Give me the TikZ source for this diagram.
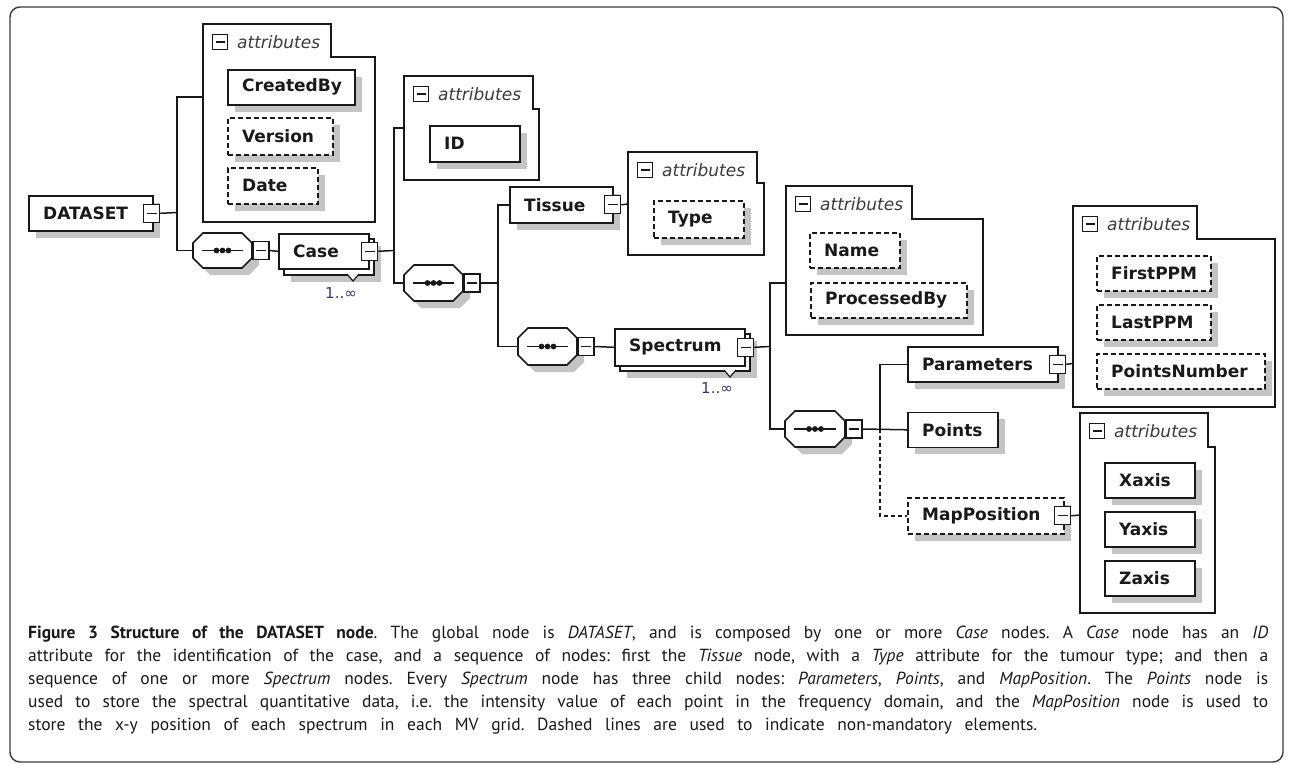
\documentclass[tikz,border=0pt]{standalone}
\usepackage{fontspec}
\newfontfamily\dvfont{DejaVu Sans}
\newfontfamily\capfont{PT Sans}
\usetikzlibrary{shadows,fit}
\definecolor{shadowgray}{RGB}{196,196,196}
\definecolor{ink}{RGB}{25,25,25}
\definecolor{framegray}{RGB}{60,60,60}
\definecolor{multcol}{RGB}{60,50,110}
\tikzset{
 conn/.style={draw=ink, line width=1.5pt},
 optconn/.style={conn, dash pattern=on 4pt off 3pt},
 elembox/.style={draw=ink, fill=white, line width=1.6pt, inner sep=0, anchor=north west},
 shad/.style={drop shadow={shadow xshift=7pt, shadow yshift=-7pt, fill=shadowgray, opacity=1}},
 optbox/.style={dash pattern=on 5pt off 3pt},
 eltext/.style={font=\dvfont\bfseries\fontsize{17}{20}\selectfont, text=ink, inner sep=0, anchor=west},
 attrtext/.style={font=\dvfont\itshape\fontsize{17}{20}\selectfont, text=ink!85, inner sep=0, anchor=west},
 minusicon/.style={draw=ink, fill=white, line width=1.3pt, inner sep=0, minimum width=16pt, minimum height=18pt,
   path picture={\draw[ink, line width=1.3pt] ([xshift=3pt]path picture bounding box.west) -- ([xshift=-3pt]path picture bounding box.east);}},
 attricon/.style={minusicon, minimum width=15pt, minimum height=15pt},
 container/.style={draw=ink, line width=1.6pt, fill=white},
 multtext/.style={font=\dvfont\fontsize{15}{18}\selectfont, text=multcol, inner sep=0},
 captext/.style={font=\capfont\fontsize{17.5}{22}\selectfont\frenchspacing, text=ink, inner sep=0, anchor=base west},
}
% element box: [style]{name}{x,y}{w}{h}{text}
\newcommand{\Elem}[6][]{%
  \node[elembox, shad, #1, minimum width=#4pt, minimum height=#5pt] (#2) at (#3) {};
  \node[eltext] (#2t) at ([xshift=15pt]#2.west) {#6};}
% front box of a repeated element (no shadow)
\newcommand{\FrontElem}[5]{%
  \node[elembox, minimum width=#3pt, minimum height=#4pt] (#1) at (#2) {};
  \node[eltext] (#1t) at ([xshift=15pt]#1.west) {#5};}
% sequence octagon: {name}{x1}{y1}{x2}{y2}
\newcommand{\Seq}[5]{%
  \path[fill=shadowgray, shift={(7,7)}] (#2+10,#3) -- (#4-10,#3) -- (#4,#3+10) -- (#4,#5-10) -- (#4-10,#5) -- (#2+10,#5) -- (#2,#5-10) -- (#2,#3+10) -- cycle;
  \draw[container] (#2+10,#3) -- (#4-10,#3) -- (#4,#3+10) -- (#4,#5-10) -- (#4-10,#5) -- (#2+10,#5) -- (#2,#5-10) -- (#2,#3+10) -- cycle;
  \coordinate (#1nw) at (#2,#3); \coordinate (#1se) at (#4,#5);
  \node[inner sep=0, fit=(#1nw)(#1se)] (#1) {};
  \draw[ink, line width=1.4pt] ([xshift=9pt]#1.west) -- ([xshift=-9pt]#1.east);
  \foreach \d in {-6,0,6} \fill[ink] ([xshift=\d pt]#1.center) circle (2.9pt);
  \node[minusicon, anchor=west] (#1m) at (#1.east) {};}
% attributes container: {name}{x1}{y1}{xt}{yt}{x2}{y2}
\newcommand{\Attrs}[7]{%
  \draw[container] (#2,#3) -- (#4,#3) -- (#4,#5) -- (#6,#5) -- (#6,#7) -- (#2,#7) -- cycle;
  \node[attricon] (#1i) at (#2+17,#3+18) {};
  \node[attrtext] (#1t) at (#2+34,#3+18) {attributes};}
\begin{document}
\begin{tikzpicture}[x=1pt,y=-1pt]
\useasboundingbox (0,0) rectangle (1290,765);
\fill[white] (0,0) rectangle (1290,765);
\draw[framegray, line width=1.4pt, rounded corners=10pt] (10,7) rectangle (1283,762);

% ---------- DATASET ----------
\Elem{dataset}{28,195}{124}{35}{DATASET}
\node[minusicon] (datasetm) at ([xshift=-2pt]dataset.east) {};
\Attrs{a1}{203}{24}{331}{57}{375}{222}
\Elem{createdby}{227,69}{127}{35}{CreatedBy}
\Elem[optbox]{version}{227,117}{105}{37}{Version}
\Elem[optbox]{date}{227,167}{90}{36}{Date}
\Seq{seq1}{193}{233}{252}{268}

% ---------- Case ----------
\node[elembox, shad, minimum width=90pt, minimum height=36pt] (caseb) at (283,238) {};
\FrontElem{case}{278,233}{90}{35}{Case}
\node[minusicon] (casem) at (case.east) {};
\draw[ink, line width=1.2pt, fill=white] (347,274) -- (353,281) -- (359,274);
\node[multtext] (casemult) at (341,293) {1..∞};
\Attrs{a2}{404}{76}{533}{109}{539}{180}
\Elem{id}{429,125}{90}{36}{ID}
\Seq{seq2}{404}{265}{463}{301}

% ---------- Tissue ----------
\Elem{tissue}{509,186}{103}{36}{Tissue}
\node[minusicon] (tissuem) at ([xshift=-1pt]tissue.east) {};
\Attrs{a3}{628}{152}{757}{183}{764}{255}
\Elem[optbox]{type}{653,200}{90}{37}{Type}
\Seq{seq3}{518}{328}{577}{365}

% ---------- Spectrum ----------
\node[elembox, shad, minimum width=130pt, minimum height=37pt] (spectrumb) at (619,333) {};
\FrontElem{spectrum}{614,328}{130}{37}{Spectrum}
\node[minusicon] (spectrumm) at (spectrum.east) {};
\draw[ink, line width=1.2pt, fill=white] (724,370) -- (730,377) -- (736,370);
\node[multtext] (specmult) at (717,388) {1..∞};
\Attrs{a4}{786}{186}{912}{219}{983}{335}
\Elem[optbox]{name}{809,232}{90}{35}{Name}
\Elem[optbox]{processedby}{810,282}{156}{35}{ProcessedBy}
\Seq{seq4}{785}{411}{845}{447}

% ---------- children of sequence 4 ----------
\Elem{parameters}{907,346}{150}{35}{Parameters}
\node[minusicon] (parametersm) at ([xshift=-1pt]parameters.east) {};
\Elem{points}{907,411.5}{90}{35}{Points}
\Elem[optbox]{mappos}{907,497}{156}{36}{MapPosition}
\node[minusicon] (mapposm) at ([xshift=-2pt]mappos.east) {};

\Attrs{a5}{1073}{206}{1197}{239}{1275}{407}
\Elem[optbox]{firstppm}{1096,255}{114}{35}{FirstPPM}
\Elem[optbox]{lastppm}{1096,304}{114}{35}{LastPPM}
\Elem[optbox]{pointsnumber}{1096,353}{168}{35}{PointsNumber}

\Attrs{a6}{1080}{413}{1208}{447}{1215}{613}
\Elem{xaxis}{1104,462}{90}{35}{Xaxis}
\Elem{yaxis}{1104,511}{90}{35}{Yaxis}
\Elem{zaxis}{1104,560}{90}{35}{Zaxis}

% ---------- junctions ----------
\coordinate (j1) at (177,212.5);
\coordinate (a1in) at (203,97);
\coordinate (j2) at (394,250.5);
\coordinate (a2in) at (404,128);
\coordinate (j3) at (498,283);
\coordinate (a3in) at (628,204);
\coordinate (j4) at (770,346.5);
\coordinate (a4in) at (786,283);
\coordinate (j5) at (880,429);
\coordinate (a5in) at (1073,363.5);
\coordinate (a6in) at (1080,515);

% ---------- connectors ----------
\draw[conn] (datasetm.east) -- (j1);
\draw[conn] (a1in) -| (j1) |- (seq1.west);
\draw[conn] (seq1m.east) -- (case.west);
\draw[conn] (casem.east) -- (j2);
\draw[conn] (a2in) -| (j2) |- (seq2.west);
\draw[conn] (seq2m.east) -- (j3);
\draw[conn] (tissue.west) -| (j3) |- (seq3.west);
\draw[conn] (tissuem.east) -- (a3in);
\draw[conn] (seq3m.east) -- (spectrum.west);
\draw[conn] (spectrumm.east) -- (j4);
\draw[conn] (a4in) -| (j4) |- (seq4.west);
\draw[conn] (seq4m.east) -- (points.west);
\draw[conn] (parameters.west) -| (j5);
\draw[optconn] (j5) |- (mappos.west);
\draw[conn] (parametersm.east) -- (a5in);
\draw[conn] (mapposm.east) -- (a6in);

% ---------- caption ----------
\node[captext] (cap1) at (28,638) {\makebox[1240pt][s]{\textbf{Figure 3 Structure of the DATASET node}. The global node is \textit{DATASET}, and is composed by one or more \textit{Case} nodes. A \textit{Case} node has an \textit{ID}}};
\node[captext] (cap2) at (28,661) {\makebox[1240pt][s]{attribute for the identification of the case, and a sequence of nodes: first the \textit{Tissue} node, with a \textit{Type} attribute for the tumour type; and then a}};
\node[captext] (cap3) at (28,684) {\makebox[1240pt][s]{sequence of one or more \textit{Spectrum} nodes. Every \textit{Spectrum} node has three child nodes: \textit{Parameters}, \textit{Points}, and \textit{MapPosition}. The \textit{Points} node is}};
\node[captext] (cap4) at (28,707) {\makebox[1240pt][s]{used to store the spectral quantitative data, i.e. the intensity value of each point in the frequency domain, and the \textit{MapPosition} node is used to}};
\node[captext] (cap5) at (28,730) {\makebox[1009pt][s]{store the x-y position of each spectrum in each MV grid. Dashed lines are used to indicate non-mandatory elements.}};
\end{tikzpicture}
\end{document}
